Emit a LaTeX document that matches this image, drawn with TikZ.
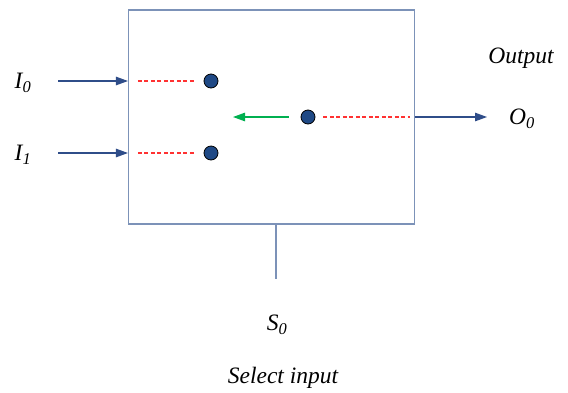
\documentclass[tikz,border=0pt]{standalone}
\usepackage{fontspec}
\setmainfont{Liberation Serif}
\usetikzlibrary{arrows.meta}

\definecolor{boxblue}{RGB}{124,146,184}
\definecolor{wireblue}{RGB}{47,77,137}
\definecolor{dotblue}{RGB}{31,73,133}
\definecolor{swgreen}{RGB}{0,176,80}
\definecolor{linkred}{RGB}{255,50,50}

\begin{document}
\begin{tikzpicture}[x=1pt,y=-1pt,>={Triangle[length=12pt,width=8.5pt]},
    wire/.style={draw=wireblue, line width=1.1pt},
    link/.style={color=linkred, line width=1.2pt, dash pattern=on 4pt off 2.5pt},
    contact/.style={circle, draw=black, line width=0.8pt, fill=dotblue, inner sep=0pt, minimum size=14pt},
    lbl/.style={font=\itshape\fontsize{23.5}{28}\selectfont, inner sep=0pt}]
  \useasboundingbox (0,0) rectangle (568,392);

  % the switch box
  \node [draw=boxblue, line width=1.1pt, minimum width=286pt, minimum height=214pt, inner sep=0pt] (mux) at (271.5,117) {};

  % inputs
  \node [lbl] (lblI0) at (23,83) {I\textsubscript{0}};
  \node [lbl] (lblI1) at (23,155) {I\textsubscript{1}};
  \coordinate (in0) at (58,81);
  \coordinate (in1) at (58,153);
  \draw [wire, ->] (in0) -- (in0 -| mux.west);
  \draw [wire, ->] (in1) -- (in1 -| mux.west);

  % contacts
  \node [contact] (c0) at (211,81) {};
  \node [contact] (c1) at (211,153) {};
  \node [contact] (sw) at (308,117) {};
  \draw [link, shorten <=10pt, shorten >=10pt] (in0 -| mux.west) -- (c0.west);
  \draw [link, shorten <=10pt, shorten >=10pt] (in1 -| mux.west) -- (c1.west);
  \coordinate (swtip) at (233,117);
  \draw [swgreen, line width=1.1pt, ->, shorten <=12pt] (sw) -- (swtip);

  % output
  \coordinate (out0) at (487,117);
  \draw [link, shorten <=8pt, shorten >=5pt] (sw.east) -- (sw -| mux.east);
  \draw [wire, ->] (sw -| mux.east) -- (out0);
  \node [lbl] (lblO0) at (522,119) {O\textsubscript{0}};
  \node [lbl] (lblOut) at (521,58) {Output};

  % select
  \coordinate (sel) at (mux.south -| 276,0);
  \coordinate (selend) at (276,279);
  \draw [draw=boxblue, line width=1.1pt] (sel) -- (selend);
  \node [lbl] (lblS0) at (277,325) {S\textsubscript{0}};
  \node [lbl] (lblSel) at (283,378) {Select input};
\end{tikzpicture}
\end{document}
